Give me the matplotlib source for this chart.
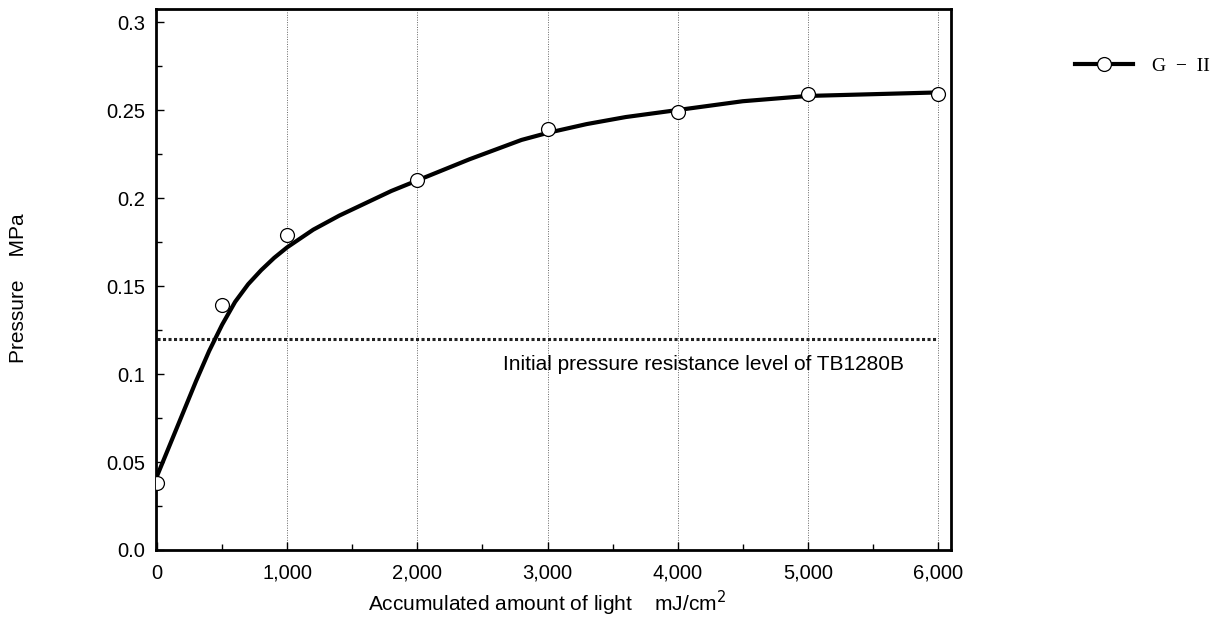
import matplotlib
matplotlib.use("Agg")
import matplotlib.pyplot as plt
from matplotlib.ticker import MultipleLocator, FixedLocator

# measured points
light = [0, 500, 1000, 2000, 3000, 4000, 5000, 6000]
pressure = [0.038, 0.139, 0.179, 0.210, 0.239, 0.249, 0.259, 0.259]

# smooth fitted curve
curve_x = [0, 100, 200, 300, 400, 500, 600, 700, 800, 900, 1000, 1200, 1400,
           1600, 1800, 2000, 2400, 2800, 3000, 3300, 3600, 4000, 4500, 5000,
           5500, 6000]
curve_y = [0.042, 0.060, 0.078, 0.096, 0.113, 0.128, 0.141, 0.151, 0.159, 0.166,
           0.172, 0.182, 0.190, 0.197, 0.204, 0.210, 0.222, 0.233, 0.237, 0.242,
           0.246, 0.250, 0.255, 0.258, 0.259, 0.260]

level = 0.12
level_label = "Initial pressure resistance level of TB1280B"

x_ticks = [0, 1000, 2000, 3000, 4000, 5000, 6000]
x_labels = ["0", "1,000", "2,000", "3,000", "4,000", "5,000", "6,000"]
y_ticks = [0.0, 0.05, 0.1, 0.15, 0.2, 0.25, 0.3]
y_labels = ["0.0", "0.05", "0.1", "0.15", "0.2", "0.25", "0.3"]

plt.rcParams['font.family'] = ['Liberation Sans', 'DejaVu Sans']

fig = plt.figure(figsize=(12.12, 6.17), dpi=100)
ax = fig.add_axes([0.1287, 0.1086, 0.6560, 0.8768])

# vertical dotted grid at major x ticks
for xv in x_ticks[1:]:
    ax.axvline(xv, color='#666666', lw=0.7, ls=(0, (1, 1.5)), zorder=1)

ax.hlines(level, 0, 6000, color='#222222', lw=2.2, ls=(0, (1, 0.8)), zorder=2)
ax.text(2660, 0.1055, level_label, fontsize=15, ha='left', va='center')

ax.plot(curve_x, curve_y, color='black', lw=3, zorder=3, solid_capstyle='round',
        solid_joinstyle='round')
ax.plot(light, pressure, ls='none', marker='o', ms=10, mfc='white', mec='black',
        mew=0.9, zorder=4)

# legend proxy
line, = ax.plot([], [], color='black', lw=3, marker='o', ms=10, mfc='white',
                mec='black', mew=0.9)
leg = fig.legend([line], ["G  \u2212  II"], loc='center left',
                 bbox_to_anchor=(1057 / 1212, 1 - 66 / 617), frameon=False,
                 handlelength=3.0, handletextpad=1.0,
                 prop={'family': 'Liberation Serif', 'size': 14})

ax.set_xlim(-8, 6100)
ax.set_ylim(0, 0.3074)
ax.xaxis.set_major_locator(FixedLocator(x_ticks))
ax.set_xticklabels(x_labels)
ax.xaxis.set_minor_locator(MultipleLocator(500))
ax.yaxis.set_major_locator(FixedLocator(y_ticks))
ax.set_yticklabels(y_labels)
ax.yaxis.set_minor_locator(MultipleLocator(0.025))
ax.tick_params(which='both', direction='in', labelsize=14.5, width=1)
ax.tick_params(which='major', length=6)
ax.tick_params(which='minor', length=4)
ax.tick_params(axis='x', pad=10)
ax.tick_params(axis='y', pad=8)

for s in ax.spines.values():
    s.set_linewidth(2)

ax.set_xlabel("Accumulated amount of light    mJ/cm$^2$", fontsize=15)
ax.xaxis.set_label_coords(0.492, -0.072)
ax.set_ylabel("Pressure    MPa", fontsize=15)
ax.yaxis.set_label_coords(-0.161, 0.484)

fig.savefig("out.png", dpi=100)
